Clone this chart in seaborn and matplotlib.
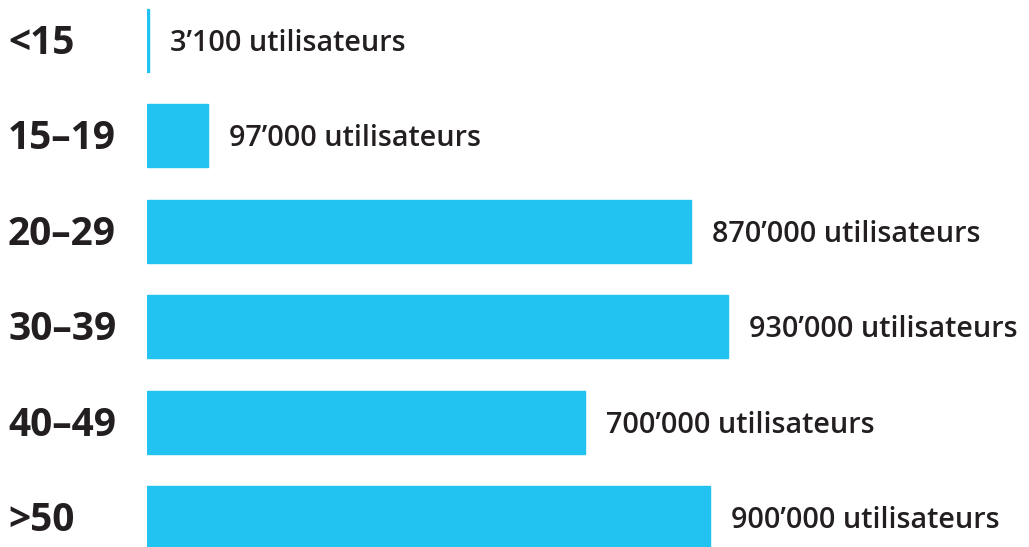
import matplotlib.pyplot as plt
import pandas as pd
import seaborn as sns

sns.set_style("white")
plt.rcParams['font.family'] = ['Open Sans', 'DejaVu Sans']

age_groups = ['<15', '15–19', '20–29', '30–39', '40–49', '>50']
users = [3100, 97000, 870000, 930000, 700000, 900000]
user_labels = ["3’100", "97’000", "870’000", "930’000", "700’000", "900’000"]

df = pd.DataFrame({'age': age_groups, 'users': users})

fig = plt.figure(figsize=(10.29, 5.47), dpi=100)
ax = fig.add_axes([147 / 1029, 0, 1 - 147 / 1029, 1])

sns.barplot(data=df, x='users', y='age', orient='h', color='#22C3F0',
            saturation=1, width=0.66, edgecolor='#22C3F0', linewidth=1,
            ax=ax)

ax.set_xlim(0, 1411000)
ax.set_ylim(5.31, -0.425)

for i, (v, lab) in enumerate(zip(users, user_labels)):
    ax.annotate(f"{lab} utilisateurs", xy=(v, i), xytext=(21, -3),
                textcoords='offset pixels', va='center', ha='left',
                fontsize=20.7, fontweight='semibold', color='#231F20')

ax.set_yticks(range(len(age_groups)))
ax.set_yticklabels([])
for i, g in enumerate(age_groups):
    ax.annotate(g, xy=(0, i), xycoords=('figure pixels', 'data'),
                xytext=(8, -3), textcoords='offset pixels',
                va='center', ha='left', fontsize=28, fontweight='bold',
                color='#231F20')

ax.set_xlabel('')
ax.set_ylabel('')
ax.set_xticks([])
ax.tick_params(left=False)
sns.despine(ax=ax, left=True, bottom=True)

fig.savefig('out.png', dpi=100)
